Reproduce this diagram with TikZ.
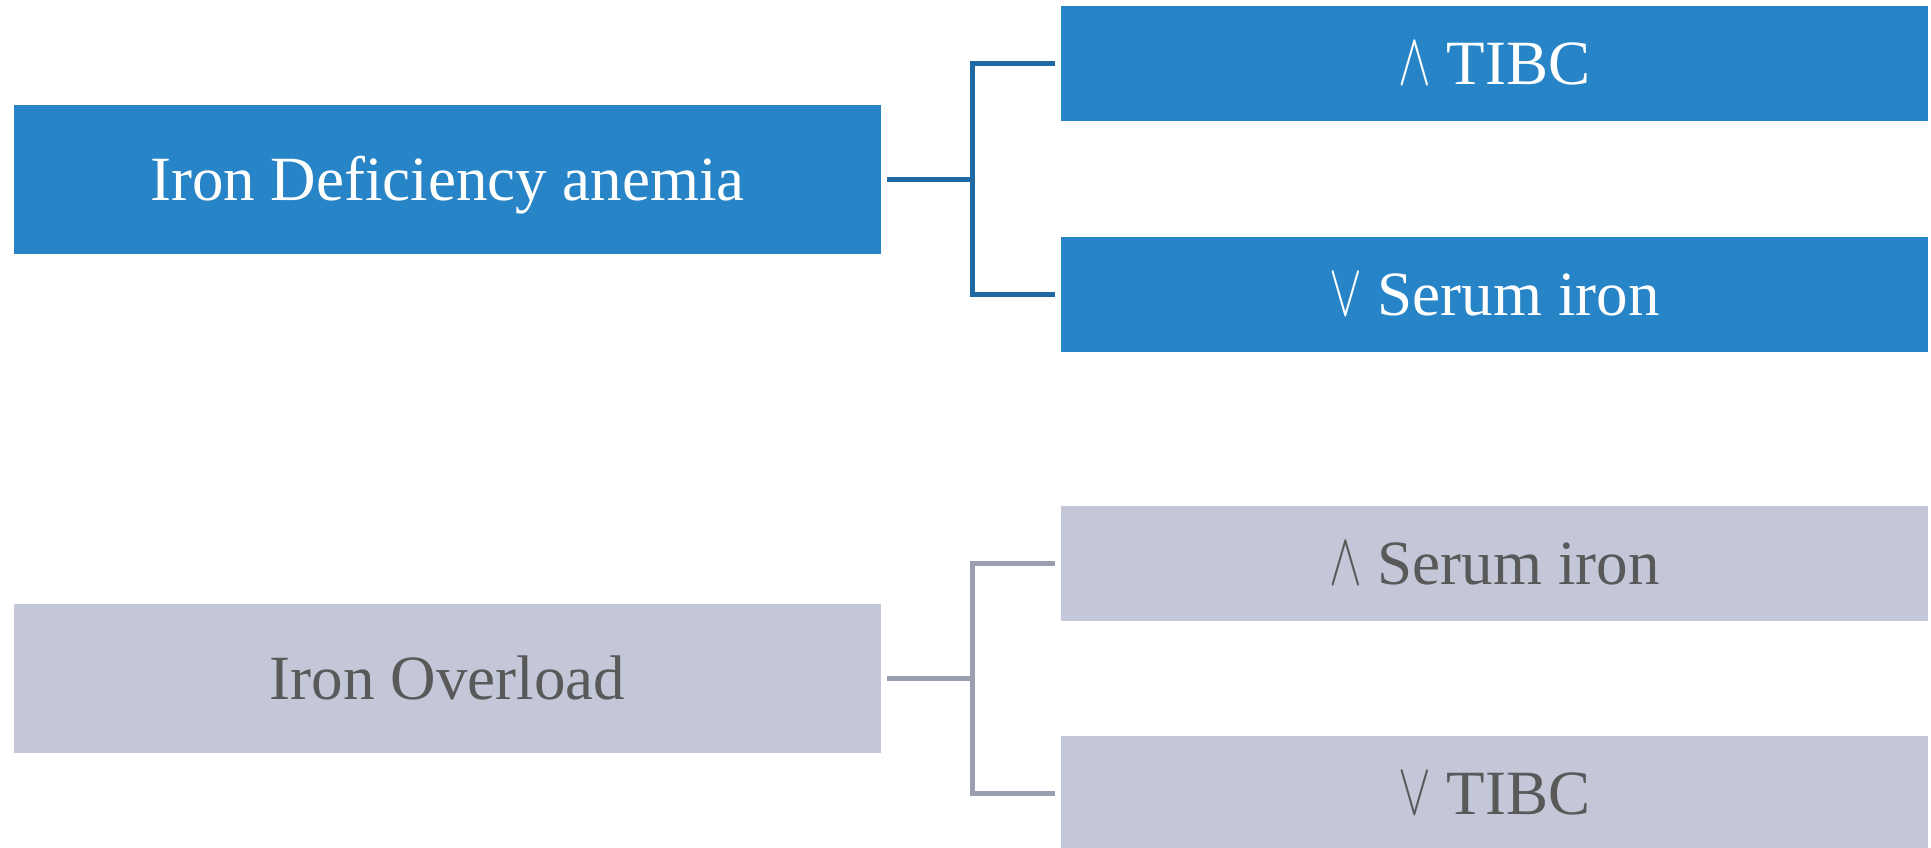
\documentclass[tikz,border=0pt]{standalone}
\usepackage{fontspec}
\setmainfont{Liberation Serif}
\definecolor{bluebox}{RGB}{39,132,199}
\definecolor{blueline}{RGB}{31,106,165}
\definecolor{graybox}{RGB}{195,199,216}
\definecolor{grayline}{RGB}{154,158,174}
\definecolor{graytext}{RGB}{89,89,89}
\newcommand{\upsym}{\scalebox{4.9}[7.5]{\normalsize$\wedge$}}
\newcommand{\downsym}{\scalebox{4.9}[7.5]{\normalsize$\vee$}}
\begin{document}
\begin{tikzpicture}[x=1pt,y=-1pt,
  box/.style={draw=none, inner sep=0pt, text height=42pt, text depth=0pt,
    font=\fontsize{63}{70}\selectfont},
  bigbox/.style={box, minimum width=867pt, minimum height=149.5pt},
  smallbox/.style={box, minimum width=867pt, minimum height=115pt},
  bluestyle/.style={fill=bluebox, text=white},
  graystyle/.style={fill=graybox, text=graytext},
  blueconn/.style={draw=blueline, line width=5pt},
  grayconn/.style={draw=grayline, line width=5pt}]
\useasboundingbox (0,0) rectangle (1931,847);
\fill[white] (0,0) rectangle (1931,847);
% top group
\node[bigbox, bluestyle] (A) at (447.5,179.25) {Iron Deficiency anemia};
\node[smallbox, bluestyle] (A1) at (1494.5,63.75) {\upsym\ TIBC};
\node[smallbox, bluestyle] (A2) at (1494.5,294) {\downsym\ Serum iron};
\coordinate (jA) at (972,179.25);
\draw[blueconn] ([xshift=6pt]A.east) -- (jA);
\draw[blueconn] ([xshift=-6pt]A1.west) -| (jA) |- ([xshift=-6pt]A2.west);
% bottom group
\node[bigbox, graystyle] (B) at (447.5,678.25) {Iron Overload};
\node[smallbox, graystyle] (B1) at (1494.5,563.25) {\upsym\ Serum iron};
\node[smallbox, graystyle] (B2) at (1494.5,793.5) {\downsym\ TIBC};
\coordinate (jB) at (972,678.25);
\draw[grayconn] ([xshift=6pt]B.east) -- (jB);
\draw[grayconn] ([xshift=-6pt]B1.west) -| (jB) |- ([xshift=-6pt]B2.west);
\end{tikzpicture}
\end{document}
